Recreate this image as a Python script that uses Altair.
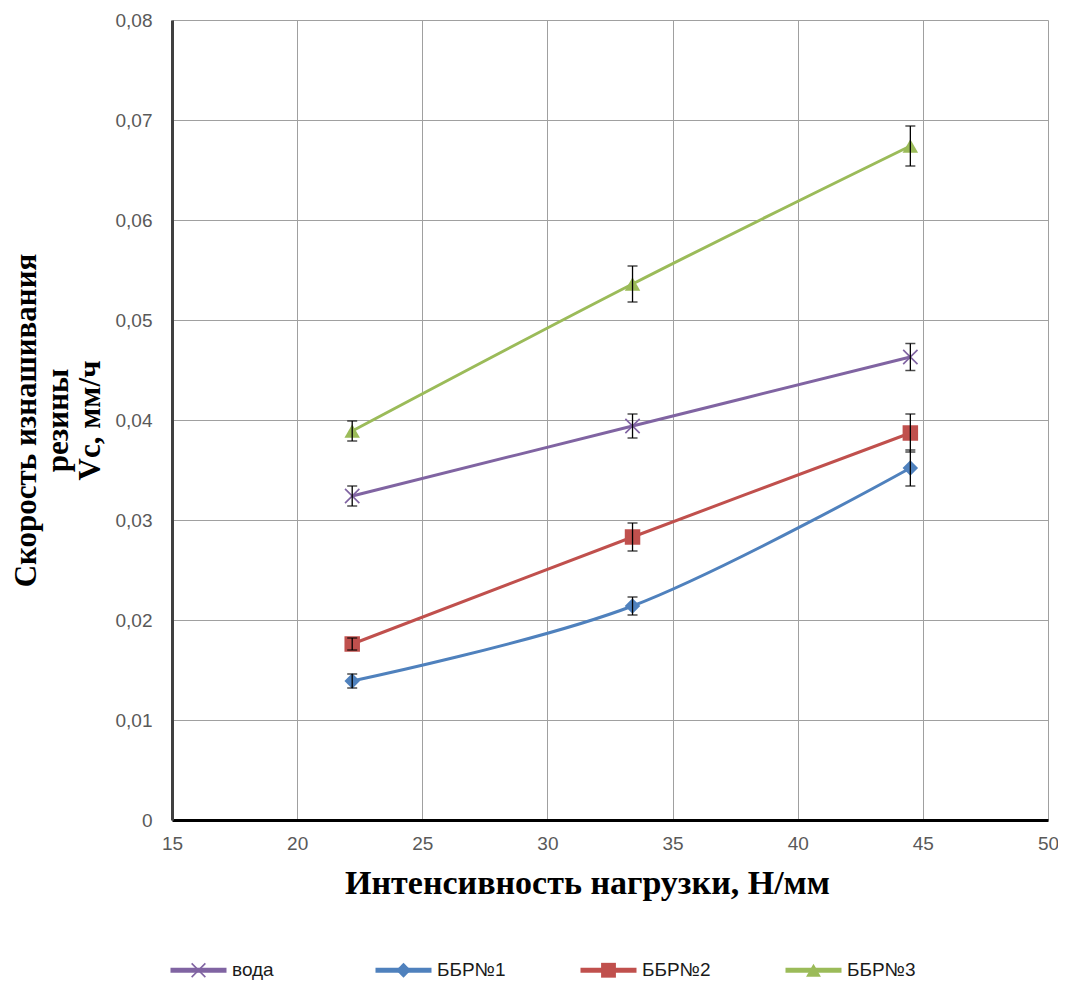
import altair as alt
import pandas as pd

# ---- data ----
x_load = [22.2, 33.4, 44.5]
series_names = ["вода", "ББР№1", "ББР№2", "ББР№3"]
voda = [0.0324, 0.0394, 0.0463]
bbr1 = [0.0139, 0.0214, 0.0352]
bbr2 = [0.0176, 0.0283, 0.0387]
bbr3 = [0.0389, 0.0536, 0.0674]
err_voda = [0.0010, 0.0012, 0.00135]
err_bbr1 = [0.0007, 0.0009, 0.0018]
err_bbr2 = [0.0006, 0.0014, 0.0019]
err_bbr3 = [0.0010, 0.0018, 0.0020]
x_ticks = [15, 20, 25, 30, 35, 40, 45, 50]
y_ticks = [0, 0.01, 0.02, 0.03, 0.04, 0.05, 0.06, 0.07, 0.08]

colors = ["#8064A2", "#4F81BD", "#C0504D", "#9BBB59"]
CROSS_X = "M-0.85,-1L1,0.85L0.85,1L-1,-0.85Z M0.85,-1L1,-0.85L-0.85,1L-1,0.85Z"
shapes = [CROSS_X, "diamond", "square", "triangle-up"]

values = [voda, bbr1, bbr2, bbr3]
errors = [err_voda, err_bbr1, err_bbr2, err_bbr3]
rows = []
for name, vals, errs in zip(series_names, values, errors):
    for xv, yv, ev in zip(x_load, vals, errs):
        rows.append({"series": name, "series_m": name, "x": xv, "y": yv, "err": ev})
df = pd.DataFrame(rows)

LABEL_FONT = "Liberation Sans"
TITLE_FONT = "Liberation Serif"

x_scale = alt.Scale(domain=[15, 50], nice=False, zero=False)
y_scale = alt.Scale(domain=[0, 0.08], nice=False, zero=False)

x_axis = alt.Axis(
    values=x_ticks, format="d", grid=True, gridColor="#a0a0a0", gridWidth=1,
    domainColor="#000000", domainWidth=3, ticks=False,
    labelFlush=False, labelOverlap=False, labelPadding=14,
    labelFont=LABEL_FONT, labelFontSize=19, labelColor="#595959",
    title="Интенсивность нагрузки, Н/мм", titleFont=TITLE_FONT, titleFontSize=34,
    titleFontWeight="bold", titleColor="#000000", titleX=415, titleY=73,
    titleAlign="center", titleBaseline="alphabetic",
)
y_axis = alt.Axis(
    values=y_ticks,
    labelExpr="datum.value == 0 ? '0' : replace(format(datum.value, '.2f'), '.', ',')",
    grid=True, gridColor="#a0a0a0", gridWidth=1,
    domainColor="#404040", domainWidth=3, ticks=False,
    labelOverlap=False, labelPadding=20,
    labelFont=LABEL_FONT, labelFontSize=19, labelColor="#595959",
    title=["Скорость изнашивания", "резины", "Vc, мм/ч"], titleFont=TITLE_FONT,
    titleFontSize=31, titleFontWeight="bold", titleColor="#000000",
    titleAngle=270, titleX=-137, titleY=400, titleAlign="center",
    titleBaseline="alphabetic", titleLineHeight=32,
)

x_enc = alt.X("x:Q", scale=x_scale, axis=x_axis)

base = alt.Chart(df)

LEG_X = -4
LEG_Y = 919.5

line_legend = alt.Legend(
    title=None, orient="none", legendX=LEG_X, legendY=LEG_Y, direction="horizontal",
    columns=4, gridAlign="all", columnPadding=64, padding=0,
    symbolType="stroke", symbolSize=3136, symbolStrokeWidth=5, symbolOpacity=1,
    labelFont=LABEL_FONT, labelFontSize=19, labelColor="#1a1a1a", labelOffset=3,
)
marker_legend = alt.Legend(
    title=None, orient="none", legendX=LEG_X, legendY=LEG_Y + 21, direction="horizontal",
    columns=4, gridAlign="all", columnPadding=120, padding=0,
    symbolSize=220, symbolStrokeWidth=0, symbolOpacity=1, symbolOffset=21,
    labelFont=LABEL_FONT, labelFontSize=19, labelExpr="''", labelOffset=45,
)

lines = base.mark_line(interpolate="cardinal", strokeWidth=3).encode(
    x=x_enc,
    y=alt.Y("y:Q", scale=y_scale, axis=y_axis),
    color=alt.Color("series:N", sort=series_names, scale=alt.Scale(range=colors),
                    legend=line_legend),
)

points = base.mark_point(filled=True, size=240, opacity=1).encode(
    x=x_enc,
    y=alt.Y("y:Q", scale=y_scale, axis=y_axis),
    fill=alt.Fill("series_m:N", scale=alt.Scale(domain=series_names, range=colors),
                  legend=marker_legend),
    shape=alt.Shape("series_m:N", scale=alt.Scale(domain=series_names, range=shapes),
                    legend=marker_legend),
)

err = base.transform_calculate(low="datum.y - datum.err", high="datum.y + datum.err")

rules = err.mark_rule(color="#000000", strokeWidth=1.3).encode(
    x=x_enc,
    y=alt.Y("low:Q", scale=y_scale, axis=y_axis),
    y2="high:Q",
)
caps_lo = err.mark_tick(orient="horizontal", color="#000000", size=10, thickness=1.5).encode(
    x=x_enc,
    y=alt.Y("low:Q", scale=y_scale, axis=y_axis),
)
caps_hi = err.mark_tick(orient="horizontal", color="#000000", size=10, thickness=1.5).encode(
    x=x_enc,
    y=alt.Y("high:Q", scale=y_scale, axis=y_axis),
)

chart = alt.layer(lines, points, rules, caps_lo, caps_hi).properties(
    width=876,
    height=800,
    padding={"left": 164, "top": 12, "right": 10, "bottom": 161},
    autosize=alt.AutoSizeParams(type="none"),
    background="#ffffff",
).configure_view(strokeWidth=0)

chart.save("out.html", embed_options={"renderer": "svg", "actions": False})
